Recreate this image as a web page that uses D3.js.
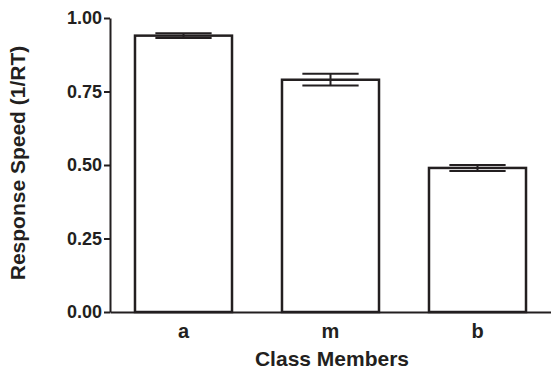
<!DOCTYPE html>
<html><head><meta charset="utf-8">
<script src="https://cdn.jsdelivr.net/npm/d3@7"></script>
<style>body{margin:0;background:#fff}svg{display:block}</style>
</head><body>
<script>
const categories = ["a", "m", "b"];
const means = [0.94, 0.79, 0.49];
const errors = [0.008, 0.02, 0.01];
const yTicks = [0, 0.25, 0.5, 0.75, 1.0];
const xTitle = "Class Members";
const yTitle = "Response Speed (1/RT)";

const W = 551, H = 369;
const svg = d3.select("body").append("svg").attr("width", W).attr("height", H);
const font = "'Liberation Sans', Arial, sans-serif";
const ink = "#231f20";

const x = d3.scaleBand().domain(categories).range([110, 551]).paddingInner(0.34).paddingOuter(0.17);
const y = d3.scaleLinear().domain([0, 1]).range([312, 18]);

// bars
svg.selectAll("rect.bar").data(categories).enter().append("rect")
  .attr("x", d => x(d)).attr("width", x.bandwidth())
  .attr("y", (d, i) => y(means[i])).attr("height", (d, i) => y(0) - y(means[i]))
  .attr("fill", "#fff").attr("stroke", ink).attr("stroke-width", 2.5);

// error bars
const capW = x.bandwidth() * 0.58;
const eg = svg.selectAll("g.err").data(categories).enter().append("g")
  .attr("stroke", ink).attr("stroke-width", 2);
eg.append("line").attr("x1", d => x(d) + x.bandwidth() / 2).attr("x2", d => x(d) + x.bandwidth() / 2)
  .attr("y1", (d, i) => y(means[i] + errors[i])).attr("y2", (d, i) => y(means[i] - errors[i]));
eg.append("line").attr("x1", d => x(d) + (x.bandwidth() - capW) / 2).attr("x2", d => x(d) + (x.bandwidth() + capW) / 2)
  .attr("y1", (d, i) => y(means[i] + errors[i])).attr("y2", (d, i) => y(means[i] + errors[i]));
eg.append("line").attr("x1", d => x(d) + (x.bandwidth() - capW) / 2).attr("x2", d => x(d) + (x.bandwidth() + capW) / 2)
  .attr("y1", (d, i) => y(means[i] - errors[i])).attr("y2", (d, i) => y(means[i] - errors[i]));

// y axis
const ya = svg.append("g").attr("transform", "translate(110,0)")
  .call(d3.axisLeft(y).tickValues(yTicks).tickFormat(d3.format(".2f")).tickSize(6).tickSizeOuter(0).tickPadding(2));
ya.select(".domain").attr("stroke", ink).attr("stroke-width", 2);
ya.selectAll(".tick line").attr("stroke", ink).attr("stroke-width", 2);
ya.selectAll(".tick text").attr("font-family", font).attr("font-weight", "bold").attr("font-size", 18).attr("fill", ink);

// x axis
const xa = svg.append("g").attr("transform", "translate(0,312)")
  .call(d3.axisBottom(x).tickSize(0).tickSizeOuter(0));
xa.select(".domain").attr("stroke", ink).attr("stroke-width", 2);
xa.selectAll(".tick text").attr("y", 26).attr("dy", 0)
  .attr("font-family", font).attr("font-weight", "bold").attr("font-size", 20).attr("fill", ink);

svg.append("text").attr("x", 332).attr("y", 366).attr("text-anchor", "middle")
  .attr("font-family", font).attr("font-weight", "bold").attr("font-size", 21).attr("fill", ink).text(xTitle);
svg.append("text").attr("transform", "translate(25,163) rotate(-90)").attr("text-anchor", "middle")
  .attr("font-family", font).attr("font-weight", "bold").attr("font-size", 21).attr("fill", ink).text(yTitle);
</script>
</body></html>
